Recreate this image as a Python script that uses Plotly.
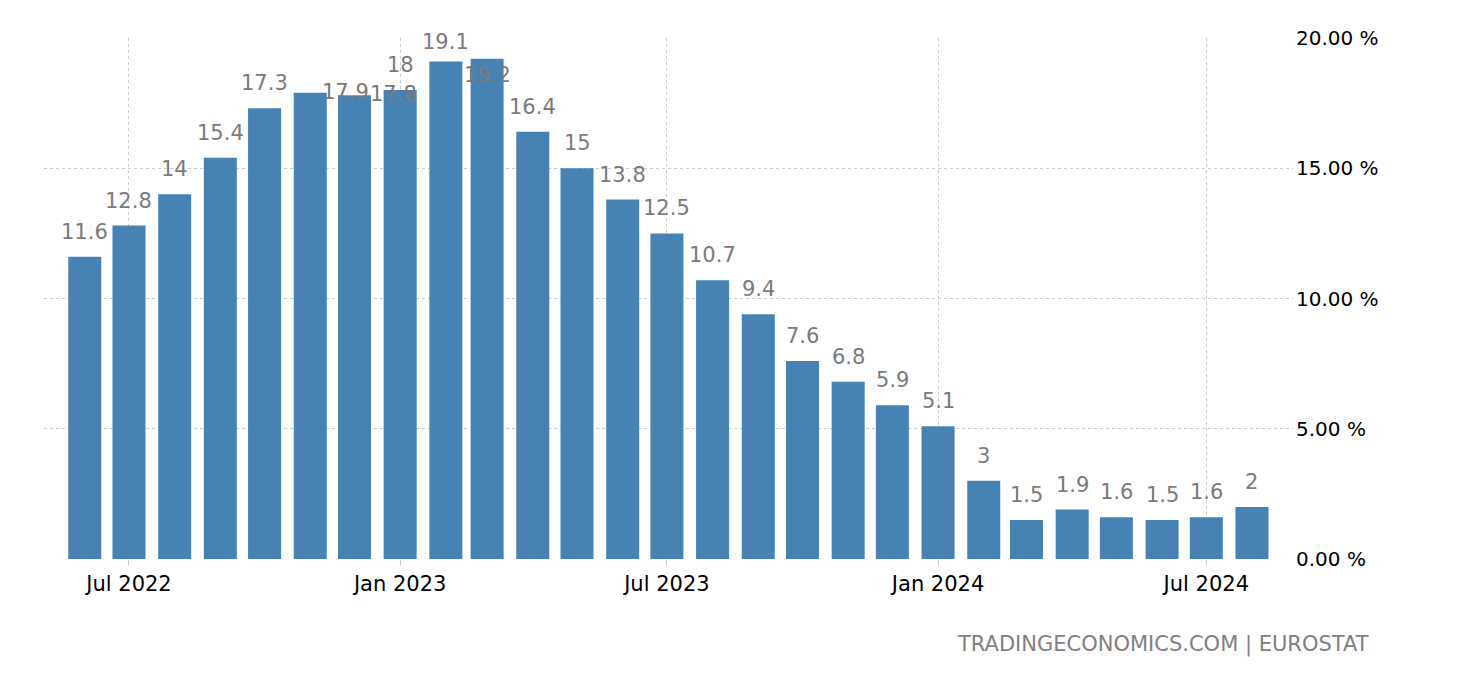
import plotly.graph_objects as go

months = ["2022-06-01", "2022-07-01", "2022-08-01", "2022-09-01", "2022-10-01", "2022-11-01",
          "2022-12-01", "2023-01-01", "2023-02-01", "2023-03-01", "2023-04-01", "2023-05-01",
          "2023-06-01", "2023-07-01", "2023-08-01", "2023-09-01", "2023-10-01", "2023-11-01",
          "2023-12-01", "2024-01-01", "2024-02-01", "2024-03-01", "2024-04-01", "2024-05-01",
          "2024-06-01", "2024-07-01", "2024-08-01"]
values = [11.6, 12.8, 14, 15.4, 17.3, 17.9, 17.8, 18, 19.1, 19.2, 16.4, 15, 13.8, 12.5, 10.7,
          9.4, 7.6, 6.8, 5.9, 5.1, 3, 1.5, 1.9, 1.6, 1.5, 1.6, 2]
labels = ["11.6", "12.8", "14", "15.4", "17.3", "17.9", "17.8", "18", "19.1", "19.2", "16.4", "15",
          "13.8", "12.5", "10.7", "9.4", "7.6", "6.8", "5.9", "5.1", "3", "1.5", "1.9", "1.6",
          "1.5", "1.6", "2"]
x_tick_vals = ["2022-07-01", "2023-01-01", "2023-07-01", "2024-01-01", "2024-07-01"]
x_tick_text = ["Jul 2022", "Jan 2023", "Jul 2023", "Jan 2024", "Jul 2024"]
y_tick_vals = [0, 5, 10, 15, 20]
y_tick_text = ["0.00 %", "5.00 %", "10.00 %", "15.00 %", "20.00 %"]

FONT = "DejaVu Sans"
DAY_MS = 86400000

fig = go.Figure()
fig.add_trace(go.Bar(
    x=months, y=values,
    marker=dict(color="#4682B4", line=dict(width=0)),
    width=22.4 * DAY_MS,
    hoverinfo="x+y",
))

# label placement tweaks (label collision handling as in the source chart)
label_shift = {5: (35, 1), 6: (39, 1), 8: (0, 19), 9: (0, -16)}
for i, (m, v, t) in enumerate(zip(months, values, labels)):
    dx, dy = label_shift.get(i, (0, 25))
    fig.add_annotation(x=m, y=v, text=t, showarrow=False, xanchor="center", yanchor="middle",
                       xshift=dx, yshift=dy,
                       font=dict(family=FONT, size=21, color="#7a7a7a"))

fig.add_annotation(xref="paper", yref="paper", x=1.0624, y=-0.1650, xanchor="right", yanchor="middle",
                   text="TRADINGECONOMICS.COM | EUROSTAT", showarrow=False,
                   font=dict(family=FONT, size=21, color="#808080"))

# the page body has an 8px default margin, so the figure is 8px smaller and margins are reduced
fig.update_layout(
    width=1452, height=672,
    margin=dict(l=36, r=167, t=30, b=121),
    plot_bgcolor="white", paper_bgcolor="white",
    showlegend=False,
    xaxis=dict(
        type="date",
        range=["2022-05-04 08:00", "2024-08-28 20:00"],
        tickvals=x_tick_vals, ticktext=x_tick_text,
        showgrid=True, gridcolor="#cccccc", griddash="dot", gridwidth=1,
        ticks="outside", ticklen=6, tickcolor="#cccccc",
        tickfont=dict(family=FONT, size=21, color="#000000"),
        showline=False, zeroline=False,
    ),
    yaxis=dict(
        range=[0, 20], side="right",
        tickvals=y_tick_vals, ticktext=y_tick_text,
        showgrid=True, gridcolor="#cccccc", griddash="dot", gridwidth=1,
        ticks="", ticklabelstandoff=2,
        tickfont=dict(family=FONT, size=20, color="#000000"),
        showline=False, zeroline=False,
    ),
)

fig.write_html("out.html")
